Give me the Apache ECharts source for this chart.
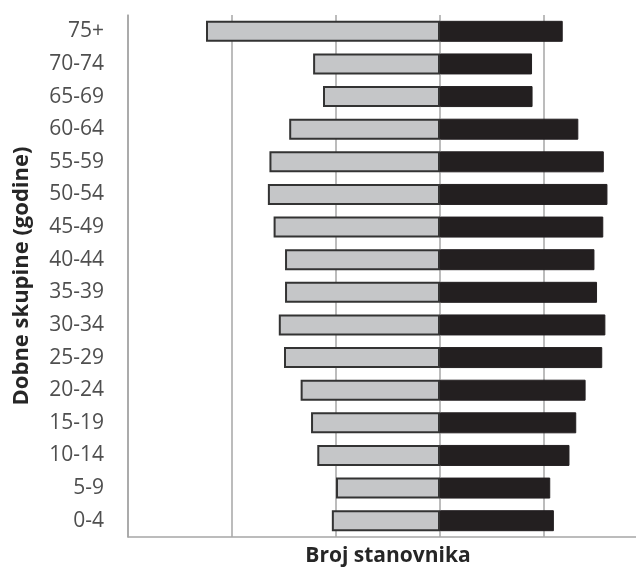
<!DOCTYPE html>
<html>
<head>
<meta charset="utf-8">
<script src="https://cdn.jsdelivr.net/npm/echarts@6/dist/echarts.min.js"></script>
<style>html,body{margin:0;padding:0;background:#fff}#c{width:636px;height:567px}</style>
</head>
<body>
<div id="c"></div>
<script>
// Age groups, bottom to top
const categories = ['0-4','5-9','10-14','15-19','20-24','25-29','30-34','35-39','40-44','45-49','50-54','55-59','60-64','65-69','70-74','75+'];
// Left side (light gray) – shown as negative values
const leftValues = [1040, 1000, 1180, 1240, 1340, 1500, 1550, 1490, 1490, 1600, 1655, 1640, 1450, 1125, 1220, 2250];
// Right side (black)
const rightValues = [1095, 1060, 1245, 1310, 1400, 1560, 1590, 1510, 1485, 1570, 1610, 1575, 1330, 890, 885, 1180];
const xMin = -3000, xMax = 2000, xInterval = 1000;

const chart = echarts.init(document.getElementById('c'), null, {renderer: 'canvas'});
chart.setOption({
  animation: false,
  backgroundColor: '#ffffff',
  grid: {left: 128, right: -12, top: 15, bottom: 30, containLabel: false, outerBoundsMode: 'none'},
  xAxis: {
    type: 'value', min: xMin, max: xMax, interval: xInterval,
    name: 'Broj stanovnika', nameLocation: 'middle', nameGap: 9,
    nameTextStyle: {fontFamily: 'Open Sans', fontWeight: 'bold', fontSize: 21, color: '#262626', verticalAlign: 'top'},
    axisLine: {show: true, onZero: false, lineStyle: {color: '#a6a6a6', width: 1.5}},
    axisTick: {show: false}, axisLabel: {show: false},
    splitLine: {show: true, lineStyle: {color: '#a6a6a6', width: 1.5}}
  },
  yAxis: {
    type: 'category', data: categories,
    name: 'Dobne skupine (godine)', nameLocation: 'middle', nameRotate: 90, nameGap: 95,
    nameTextStyle: {fontFamily: 'Open Sans', fontWeight: 'bold', fontSize: 22, color: '#262626'},
    axisLine: {show: true, onZero: false, lineStyle: {color: '#a6a6a6', width: 1.5}},
    axisTick: {show: false},
    axisLabel: {fontFamily: 'Open Sans', fontSize: 21, color: '#4f4f4f', margin: 24}
  },
  series: [
    {
      type: 'bar', stack: 'p', barWidth: 21,
      data: leftValues.map(v => -v),
      itemStyle: {color: '#c5c6c8', borderColor: '#333333', borderWidth: 2}
    },
    {
      type: 'bar', stack: 'p', barWidth: 21,
      data: rightValues,
      itemStyle: {color: '#231f20', borderColor: '#231f20', borderWidth: 1}
    }
  ]
});
</script>
</body>
</html>
